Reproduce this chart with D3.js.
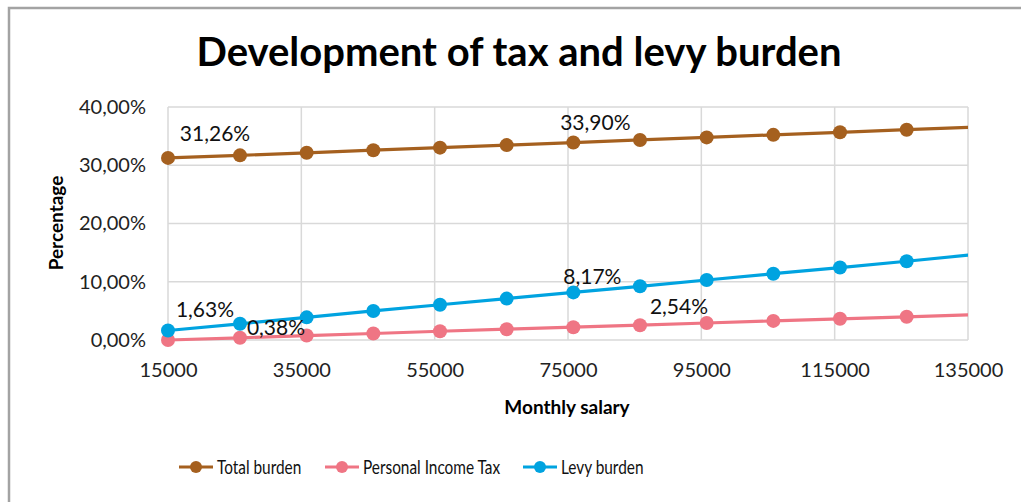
<!DOCTYPE html>
<html>
<head>
<meta charset="utf-8">
<script src="https://cdn.jsdelivr.net/npm/d3@7"></script>
<style>
    body { margin: 0; background: #fff; }
    svg { display: block; font-family: Lato, "Open Sans", sans-serif; }
</style>
</head>
<body>
<div class="chart"></div>
<script>
// monthly salary for each point (last one is past the axis end and gets clipped)
const salary = [15000, 25800, 35800, 45800, 55800, 65800, 75800, 85800, 95800, 105800, 115800, 125800, 135800];
const totalBurden = [31.26, 31.70, 32.14, 32.58, 33.02, 33.46, 33.90, 34.34, 34.78, 35.22, 35.66, 36.10, 36.54];
const incomeTax = [0.00, 0.38, 0.76, 1.12, 1.50, 1.85, 2.20, 2.54, 2.92, 3.28, 3.64, 3.98, 4.34];
const levyBurden = [1.63, 2.78, 3.89, 4.99, 6.05, 7.11, 8.17, 9.22, 10.30, 11.38, 12.44, 13.52, 14.65];
const xTicks = [15000, 35000, 55000, 75000, 95000, 115000, 135000];
const yTicks = [0, 10, 20, 30, 40];

const series = [
    { name: 'Total burden', values: totalBurden, color: '#a5601f', labels: [0, 6] },
    { name: 'Personal Income Tax', values: incomeTax, color: '#ef7584', labels: [1, 7] },
    { name: 'Levy burden', values: levyBurden, color: '#00a3e0', labels: [0, 6] }
];
// hand placed label nudges (dx, dy) like in the original
const labelNudge = {
    'Total burden': [[47, -24], [22, -20]],
    'Personal Income Tax': [[36, -10], [39, -19]],
    'Levy burden': [[37, -21], [19, -16]]
};

const svgDim = { w: 1021, h: 502 };
const plot = { left: 168, right: 968, top: 107, bottom: 340 };

const svg = d3.select('.chart').append('svg')
    .attr('width', svgDim.w).attr('height', svgDim.h);

// outer chart frame
svg.append('path')
    .attr('d', `M9,${svgDim.h} V8 H${svgDim.w}`)
    .attr('fill', 'none').attr('stroke', '#a3a3a3').attr('stroke-width', 2.5);

const xScale = d3.scaleLinear().domain([15000, 135000]).range([plot.left, plot.right]);
const yScale = d3.scaleLinear().domain([0, 40]).range([plot.bottom, plot.top]);

// gridlines
svg.append('g').selectAll('line').data(yTicks).enter().append('line')
    .attr('x1', plot.left).attr('x2', plot.right)
    .attr('y1', d => yScale(d)).attr('y2', d => yScale(d))
    .attr('stroke', '#d9d9d9').attr('stroke-width', 1.5);
svg.append('g').selectAll('line').data(xTicks).enter().append('line')
    .attr('x1', d => xScale(d)).attr('x2', d => xScale(d))
    .attr('y1', plot.top).attr('y2', plot.bottom)
    .attr('stroke', '#d9d9d9').attr('stroke-width', 1.5);

// axes (labels only)
const yAxis = d3.axisLeft(yScale).tickValues(yTicks).tickSize(0).tickPadding(22)
    .tickFormat(d => d3.format('.2f')(d).replace('.', ',') + '%');
const xAxis = d3.axisBottom(xScale).tickValues(xTicks).tickSize(0).tickPadding(23)
    .tickFormat(d => String(d));

svg.append('g').attr('transform', `translate(${plot.left},0)`).call(yAxis)
    .call(g => g.select('.domain').remove())
    .selectAll('text').attr('font-size', 20).attr('fill', '#222').attr('font-family', 'Lato, sans-serif');
svg.append('g').attr('transform', `translate(0,${plot.bottom})`).call(xAxis)
    .call(g => g.select('.domain').remove())
    .selectAll('text').attr('font-size', 20).attr('fill', '#222').attr('font-family', 'Lato, sans-serif');

// titles
svg.append('text').attr('x', 519).attr('y', 66).attr('text-anchor', 'middle')
    .attr('font-size', 40).attr('font-weight', 'bold').attr('fill', '#000')
    .text('Development of tax and levy burden');
svg.append('text').attr('x', 567).attr('y', 414).attr('text-anchor', 'middle')
    .attr('font-size', 19).attr('font-weight', 'bold').attr('fill', '#000')
    .text('Monthly salary');
svg.append('text').attr('transform', 'translate(63,223) rotate(-90)').attr('text-anchor', 'middle')
    .attr('font-size', 19).attr('font-weight', 'bold').attr('fill', '#000')
    .text('Percentage');

// clip to plot area
svg.append('clipPath').attr('id', 'clip').append('rect')
    .attr('x', plot.left).attr('y', plot.top - 20)
    .attr('width', plot.right - plot.left).attr('height', plot.bottom - plot.top + 40);

const line = d3.line().x(d => xScale(d[0])).y(d => yScale(d[1]));

series.forEach(s => {
    const pts = salary.map((x, i) => [x, s.values[i]]);
    svg.append('path').datum(pts)
        .attr('clip-path', 'url(#clip)')
        .attr('d', line)
        .attr('fill', 'none').attr('stroke', s.color).attr('stroke-width', 3.2);
    svg.append('g').selectAll('circle')
        .data(pts.filter(p => p[0] <= 135000))
        .enter().append('circle')
        .attr('cx', d => xScale(d[0])).attr('cy', d => yScale(d[1]))
        .attr('r', 7).attr('fill', s.color);
});

// data labels
series.forEach(s => {
    s.labels.forEach((idx, k) => {
        const nudge = labelNudge[s.name][k];
        svg.append('text')
            .attr('x', xScale(salary[idx]) + nudge[0])
            .attr('y', yScale(s.values[idx]) + nudge[1])
            .attr('dy', '0.35em')
            .attr('text-anchor', 'middle')
            .attr('font-size', 21).attr('fill', '#111')
            .text(d3.format('.2f')(s.values[idx]).replace('.', ',') + '%');
    });
});

// legend - text squeezed a bit, the original font is narrow
const legendX = [179, 325, 523];
series.forEach((s, i) => {
    const g = svg.append('g').attr('transform', `translate(${legendX[i]},467)`);
    g.append('line').attr('x1', 0).attr('x2', 34).attr('stroke', s.color).attr('stroke-width', 3.2);
    g.append('circle').attr('cx', 17).attr('r', 6).attr('fill', s.color);
    g.append('text').attr('transform', 'translate(38,0) scale(0.81,1)').attr('dy', '0.35em')
        .attr('font-size', 19).attr('fill', '#111').text(s.name);
});
</script>
</body>
</html>
